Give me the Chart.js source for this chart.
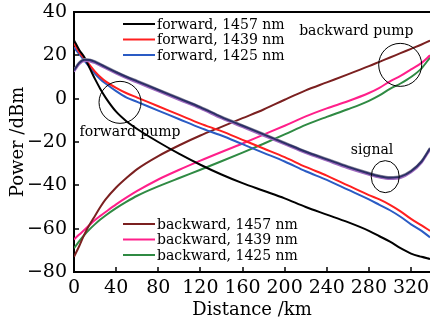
<!DOCTYPE html>
<html>
<head>
<meta charset="utf-8">
<script src="https://cdn.jsdelivr.net/npm/chart.js@4"></script>
<style>
  html, body { margin: 0; padding: 0; background: #fff; }
  #wrap { width: 430px; height: 323px; }
</style>
</head>
<body>
<div id="wrap"><canvas id="myChart" width="430" height="323"></canvas></div>
<script>
// distance along the fibre (km)
var distance = [0, 5, 10, 15, 20, 25, 30, 40, 50, 60, 80, 100, 120, 140, 160, 180, 200, 220, 240, 260, 280, 290, 300, 310, 320, 330, 338];

// forward pumps (dBm)
var fwd1457 = [27, 22.5, 19, 14, 9, 4.5, 0.5, -6, -10.5, -14, -20, -25.5, -30.5, -35, -39, -42.5, -46, -50, -53.5, -57, -61, -63.5, -66, -69, -71.5, -73, -74];
var fwd1439 = [25.5, 21.5, 18.5, 15.5, 12.5, 10, 8, 5, 2.5, 0.5, -3.5, -7.5, -11.5, -15, -19, -23, -27, -31.5, -35.5, -40, -44.5, -46.5, -49, -52, -55.5, -58.5, -61];
var fwd1425 = [23.7, 20.5, 17.5, 14.5, 11.5, 9, 7, 3.5, 0.5, -1.5, -5.5, -9.5, -13.5, -17, -21, -25, -29, -33.5, -37.5, -42, -46.5, -49, -51.5, -54.5, -58, -61, -64];

// backward pumps (dBm)
var bwd1457 = [-73, -68, -62.5, -58, -54, -50, -46.5, -41, -36.5, -32.5, -26.5, -21.5, -17, -13, -9, -5, -0.5, 3.8, 7.5, 11.2, 15, 17, 19, 21, 23, 25, 26.8];
var bwd1439 = [-65, -62.7, -60.5, -58.2, -56, -54.1, -52.3, -48.8, -45.6, -42.6, -37.3, -32.8, -28.6, -24.6, -20.7, -16.6, -12.5, -8.2, -4.5, -1.2, 2.6, 5, 8, 10.5, 13.5, 16.5, 20];
var bwd1425 = [-69, -65.8, -62.8, -60.2, -57.9, -55.8, -53.9, -50.5, -47.5, -44.8, -40.5, -36.6, -32.8, -28.9, -24.9, -20.8, -16.5, -12.1, -8.4, -4.9, -1, 1.5, 4.5, 7, 10, 14, 19];

// signal channels (dBm), nearly on top of each other
var sigA = [13, 16.5, 18, 17.8, 17, 15.8, 14.6, 12.2, 10, 8, 4, 0, -4, -8.5, -12.5, -16.5, -20.5, -24.5, -28, -31.5, -34.5, -35.8, -36.5, -36, -33.5, -29, -23];
var sigB = [12.4, 15.9, 17.4, 17.2, 16.4, 15.2, 14, 11.6, 9.4, 7.4, 3.4, -0.6, -4.6, -9.1, -13.1, -17.1, -21.1, -25.1, -28.6, -32.1, -35.1, -36.4, -37.1, -36.6, -34.1, -29.6, -23.6];
var sigC = [13.4, 16.8, 18.3, 18.1, 17.3, 16.1, 14.9, 12.5, 10.3, 8.3, 4.3, 0.3, -3.7, -8.2, -12.2, -16.2, -20.2, -24.2, -27.7, -31.2, -34.2, -35.5, -36.2, -35.7, -33.2, -28.7, -22.7];

var xTicksMax = 338;
var serif = '"DejaVu Serif", serif';

function pts(arr) {
  return distance.map(function (d, i) { return { x: d, y: arr[i] }; });
}

function line(label, arr, color, order) {
  return {
    label: label,
    data: pts(arr),
    borderColor: color,
    backgroundColor: color,
    borderWidth: 2,
    pointRadius: 0,
    fill: false,
    cubicInterpolationMode: 'monotone',
    order: order
  };
}

var topLegend = ['forward, 1457 nm', 'forward, 1439 nm', 'forward, 1425 nm'];
var bottomLegend = ['backward, 1457 nm', 'backward, 1439 nm', 'backward, 1425 nm'];

// circles and labels in data units
var marks = [
  { x: 43.7, y: -1.7, rx: 21, ry: 21 },
  { x: 309.7, y: 15.6, rx: 21.5, ry: 21.5 },
  { x: 295.5, y: -36, rx: 14, ry: 16 }
];
var notes = [
  { text: 'forward pump', x: 53.2, y: -17.4 },
  { text: 'backward pump', x: 268, y: 29.2 },
  { text: 'signal', x: 283, y: -25.4 }
];

var extras = {
  id: 'extras',
  afterDraw: function (chart) {
    var ctx = chart.ctx, a = chart.chartArea;
    var xs = chart.scales.x, ys = chart.scales.y;
    ctx.save();
    ctx.strokeStyle = '#000';
    ctx.lineWidth = 2;
    ctx.beginPath();
    ctx.moveTo(a.left - 1, a.top);
    ctx.lineTo(a.right, a.top);
    ctx.stroke();

    // inner ticks
    ctx.lineWidth = 1.5;
    xs.ticks.forEach(function (t) {
      var p = Math.round(xs.getPixelForValue(t.value));
      ctx.beginPath(); ctx.moveTo(p, a.bottom); ctx.lineTo(p, a.bottom - 5); ctx.stroke();
    });
    ys.ticks.forEach(function (t) {
      var p = Math.round(ys.getPixelForValue(t.value));
      ctx.beginPath(); ctx.moveTo(a.left, p); ctx.lineTo(a.left + 5, p); ctx.stroke();
    });

    // ellipses
    ctx.lineWidth = 1;
    marks.forEach(function (m) {
      ctx.beginPath();
      ctx.ellipse(xs.getPixelForValue(m.x), ys.getPixelForValue(m.y), m.rx, m.ry, 0, 0, Math.PI * 2);
      ctx.stroke();
    });

    // annotation text
    ctx.fillStyle = '#000';
    ctx.font = '14px ' + serif;
    ctx.textAlign = 'center';
    ctx.textBaseline = 'alphabetic';
    notes.forEach(function (n) {
      ctx.fillText(n.text, xs.getPixelForValue(n.x), ys.getPixelForValue(n.y));
    });

    // legends
    function drawLegend(labels, y0) {
      ctx.textAlign = 'left';
      ctx.textBaseline = 'middle';
      labels.forEach(function (lab, i) {
        var ds = chart.data.datasets.find(function (d) { return d.label === lab; });
        var y = y0 + i * 15.5;
        ctx.strokeStyle = ds.borderColor;
        ctx.lineWidth = 2;
        ctx.beginPath(); ctx.moveTo(123, y); ctx.lineTo(155, y); ctx.stroke();
        ctx.fillStyle = '#000';
        ctx.fillText(lab, 157, y + 1);
      });
    }
    drawLegend(topLegend, 24);
    drawLegend(bottomLegend, 224);
    ctx.restore();
  }
};

var ctx = document.getElementById('myChart').getContext('2d');
var chart = new Chart(ctx, {
  type: 'line',
  data: {
    datasets: [
      line('forward, 1457 nm', fwd1457, '#000000', 5),
      line('forward, 1439 nm', fwd1439, '#ff1f1f', 5),
      line('forward, 1425 nm', fwd1425, '#2a5bc4', 5),
      line('backward, 1457 nm', bwd1457, '#7b2020', 5),
      line('backward, 1439 nm', bwd1439, '#ff1f8a', 5),
      line('backward, 1425 nm', bwd1425, '#2f8a43', 5),
      line('signal a', sigC, '#8c8c9c', 3),
      line('signal b', sigB, '#a06ac0', 2),
      line('signal c', sigA, '#2c2f66', 1)
    ]
  },
  options: {
    responsive: false,
    animation: false,
    devicePixelRatio: 1,
    layout: { padding: { top: 12, left: 0, right: 0, bottom: 0 } },
    plugins: { legend: { display: false }, tooltip: { enabled: false } },
    scales: {
      x: {
        type: 'linear',
        min: 0,
        max: xTicksMax,
        grid: { drawOnChartArea: false, drawTicks: false },
        border: { color: '#000', width: 2 },
        ticks: {
          stepSize: 40,
          includeBounds: false,
          autoSkip: false,
          maxRotation: 0,
          padding: 5,
          color: '#000',
          font: { family: serif, size: 19 }
        },
        title: {
          display: true,
          text: 'Distance /km',
          color: '#000',
          font: { family: serif, size: 18 },
          padding: { top: 0, bottom: 2 }
        },
        afterFit: function (s) { s.height = 51; s.paddingLeft = 0; s.paddingRight = 0; }
      },
      y: {
        min: -80,
        max: 40,
        grid: { drawOnChartArea: false, drawTicks: false },
        border: { color: '#000', width: 2 },
        ticks: {
          stepSize: 20,
          padding: 7,
          color: '#000',
          font: { family: serif, size: 19 },
          callback: function (v) { return String(v).replace('-', '\u2212'); }
        },
        title: {
          display: true,
          text: 'Power /dBm',
          color: '#000',
          font: { family: serif, size: 18 },
          padding: { top: 8, bottom: 0 }
        },
        afterFit: function (s) { s.width = 74; s.paddingTop = 0; s.paddingBottom = 0; }
      }
    }
  },
  plugins: [extras]
});
</script>
</body>
</html>
